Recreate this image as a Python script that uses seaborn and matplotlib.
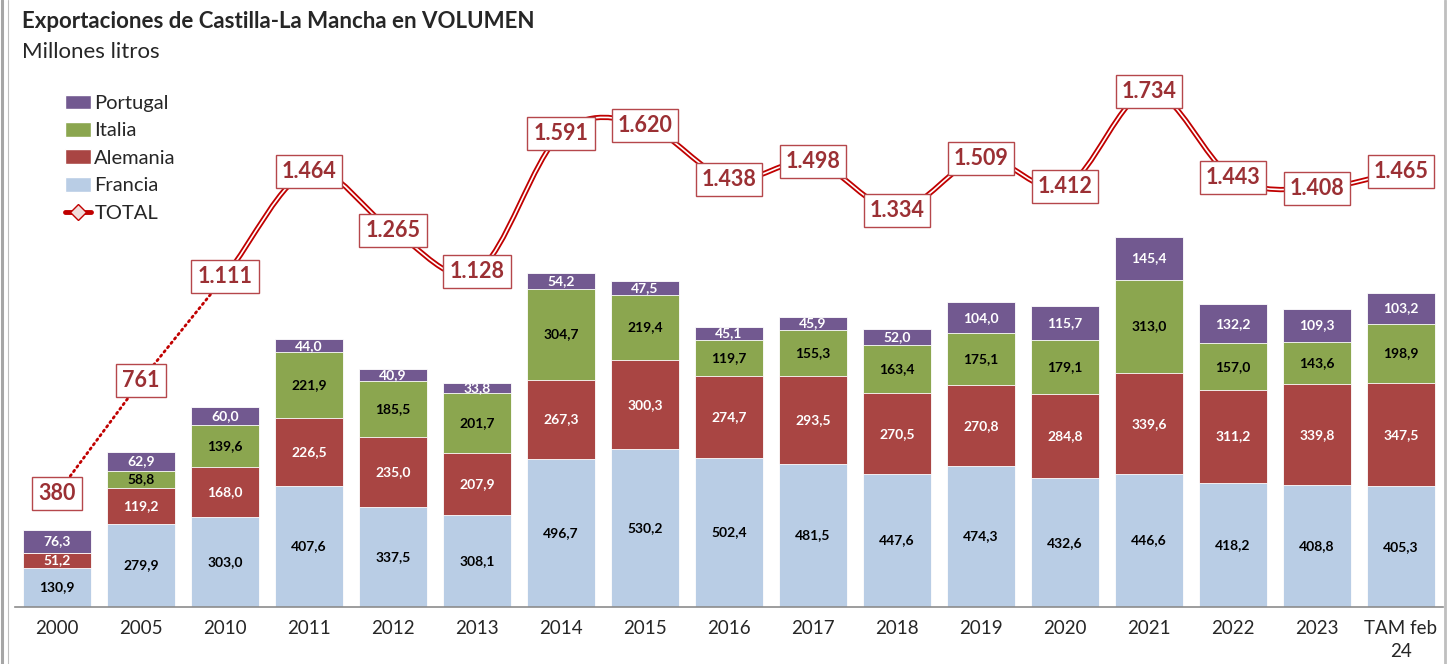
import numpy as np
import pandas as pd
import seaborn as sns
import matplotlib
matplotlib.use("Agg")
from matplotlib import pyplot as plt
from matplotlib.path import Path
from matplotlib.patches import PathPatch, Patch
from matplotlib.lines import Line2D

years = ["2000", "2005", "2010", "2011", "2012", "2013", "2014", "2015", "2016",
         "2017", "2018", "2019", "2020", "2021", "2022", "2023", "TAM feb\n24"]
francia = [130.9, 279.9, 303.0, 407.6, 337.5, 308.1, 496.7, 530.2, 502.4,
           481.5, 447.6, 474.3, 432.6, 446.6, 418.2, 408.8, 405.3]
alemania = [51.2, 119.2, 168.0, 226.5, 235.0, 207.9, 267.3, 300.3, 274.7,
            293.5, 270.5, 270.8, 284.8, 339.6, 311.2, 339.8, 347.5]
italia = [0.0, 58.8, 139.6, 221.9, 185.5, 201.7, 304.7, 219.4, 119.7,
          155.3, 163.4, 175.1, 179.1, 313.0, 157.0, 143.6, 198.9]
portugal = [76.3, 62.9, 60.0, 44.0, 40.9, 33.8, 54.2, 47.5, 45.1,
            45.9, 52.0, 104.0, 115.7, 145.4, 132.2, 109.3, 103.2]
total = [380, 761, 1111, 1464, 1265, 1128, 1591, 1620, 1438,
         1498, 1334, 1509, 1412, 1734, 1443, 1408, 1465]

c_fr = "#B9CDE5"
c_al = "#A94543"
c_it = "#8BA64F"
c_pt = "#725990"
c_line = "#C00000"
c_txt = "#9B3034"

sns.set_style("white")
plt.rcParams["font.family"] = ["Lato", "DejaVu Sans"]

df = pd.DataFrame({"year": years, "Francia": francia, "Alemania": alemania,
                   "Italia": italia, "Portugal": portugal, "TOTAL": total})
df["c_fr"] = df["Francia"]
df["c_al"] = df["c_fr"] + df["Alemania"]
df["c_it"] = df["c_al"] + df["Italia"]
df["c_pt"] = df["c_it"] + df["Portugal"]

fig = plt.figure(figsize=(14.5, 6.64), dpi=100)
ax = fig.add_axes([15 / 1450, 57 / 664, 1428 / 1450, 535.5 / 664])

# stacked bars drawn as cumulative overlays
for col, color in [("c_pt", c_pt), ("c_it", c_it), ("c_al", c_al), ("c_fr", c_fr)]:
    sns.barplot(data=df, x="year", y=col, color=color, width=0.81, errorbar=None,
                edgecolor="white", linewidth=0.6, saturation=1, ax=ax)

ax.set_ylim(0, 1800)
ax.set_xlim(-0.5, len(years) - 0.5)

# segment labels
for i in range(len(years)):
    segs = [(0, francia[i], "black"),
            (df["c_fr"][i], alemania[i], "white"),
            (df["c_al"][i], italia[i], "black"),
            (df["c_it"][i], portugal[i], "white")]
    for base, val, tc in segs:
        if val <= 0:
            continue
        ax.text(i, base + val / 2, f"{val:.1f}".replace(".", ","), ha="center",
                va="center", fontsize=10, fontweight="bold", color=tc)

# total line: dotted for first points, smooth double line afterwards
x = np.arange(len(years), dtype=float)
y = np.array(total, dtype=float)
ax.plot(x[:3], y[:3], linestyle=(0, (0.6, 1.4)), color=c_line, lw=2.0,
        dash_capstyle="round", zorder=4)

verts = [(x[2], y[2])]
codes = [Path.MOVETO]
n = len(x)
for i in range(2, n - 1):
    p0 = np.array([x[i - 1], y[i - 1]])
    p1 = np.array([x[i], y[i]])
    p2 = np.array([x[i + 1], y[i + 1]])
    p3 = np.array([x[min(i + 2, n - 1)], y[min(i + 2, n - 1)]])
    c1 = p1 + (p2 - p0) / 6
    c2 = p2 - (p3 - p1) / 6
    verts += [tuple(c1), tuple(c2), tuple(p2)]
    codes += [Path.CURVE4] * 3
path = Path(verts, codes)
ax.add_patch(PathPatch(path, fc="none", ec=c_line, lw=3.8, zorder=5))
ax.add_patch(PathPatch(path, fc="none", ec="white", lw=1.2, zorder=6))

for i, v in enumerate(total):
    lab = f"{v:,}".replace(",", ".")
    ax.text(i, v, lab, ha="center", va="center", fontsize=15.5, fontweight="bold",
            color=c_txt, zorder=8,
            bbox=dict(boxstyle="square,pad=0.28", fc="white", ec="#B5474B", lw=1))

# axes styling
for s in ["top", "left", "right"]:
    ax.spines[s].set_visible(False)
ax.spines["bottom"].set_color("#8C8C8C")
ax.spines["bottom"].set_linewidth(1.2)
ax.set_yticks([])
ax.set_xlabel("")
ax.set_ylabel("")
ax.set_xticks(x)
ax.set_xticklabels(years, fontsize=13.5, linespacing=1.45)
ax.tick_params(axis="x", which="major", length=0, pad=9)
ax.set_xticks(np.arange(-0.5, len(years)), minor=True)
ax.tick_params(axis="x", which="minor", length=7, color="#8C8C8C", width=1.2)

handles = [Patch(fc=c_pt), Patch(fc=c_it), Patch(fc=c_al), Patch(fc=c_fr),
           Line2D([], [], color=c_line, lw=3.5, marker="D", markersize=8,
                  markerfacecolor="#F2DCDB", markeredgecolor=c_line)]
leg = ax.legend(handles, ["Portugal", "Italia", "Alemania", "Francia", "TOTAL"],
                loc="upper left", bbox_to_anchor=(42 / 1428, 1 - 15 / 535.5),
                frameon=False, fontsize=14.5, handlelength=1.3, handleheight=0.75,
                handletextpad=0.15, labelspacing=0.5, borderaxespad=0)

fig.text(22 / 1450, 1 - 22 / 664, "Exportaciones de Castilla-La Mancha en VOLUMEN",
         fontsize=16, fontweight="bold", va="center", ha="left")
fig.text(22 / 1450, 1 - 52 / 664, "Millones litros", fontsize=16, va="center", ha="left")

# chart frame lines
for xp, lw, col in [(2, 2.2, "#A6A6A6"), (8, 0.8, "#BFBFBF"), (1445, 2.0, "#BFBFBF")]:
    fig.add_artist(Line2D([xp / 1450, xp / 1450], [0, 1], color=col, lw=lw))

fig.savefig("out.png", dpi=100)
